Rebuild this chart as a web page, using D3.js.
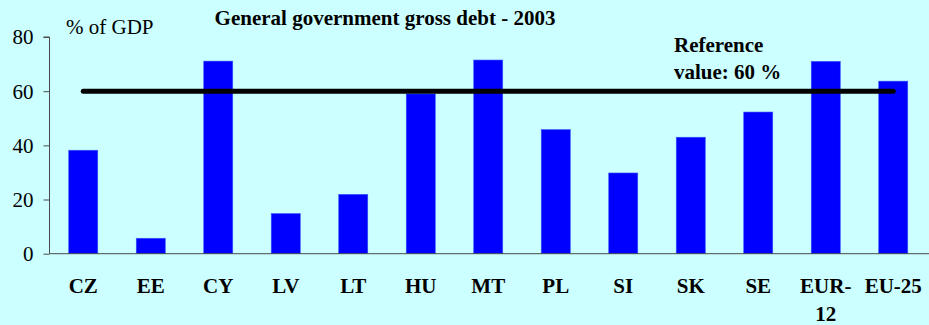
<!DOCTYPE html>
<html>
<head>
<meta charset="utf-8">
<script src="https://cdn.jsdelivr.net/npm/d3@7"></script>
<style>
  html, body { margin: 0; padding: 0; background: #CCFFFF; }
  svg { display: block; }
</style>
</head>
<body>
<svg id="chart" width="929" height="325"></svg>
<script>
// Gross debt of general government, % of GDP, 2003
const categories = ["CZ", "EE", "CY", "LV", "LT", "HU", "MT", "PL", "SI", "SK", "SE", "EUR-12", "EU-25"];
const debt = [38.2, 5.7, 71.1, 14.8, 21.9, 59.0, 71.5, 45.8, 29.8, 43.0, 52.3, 71.0, 63.7];
const referenceValue = 60;
const yTicks = [0, 20, 40, 60, 80];
const categoryLabels = {"EUR-12": ["EUR-", "12"]};

const FONT = "'Liberation Serif', 'Times New Roman', 'DejaVu Serif', serif";
const svg = d3.select("#chart");
const W = 929, H = 325;
const plotLeft = 49.5, plotRight = 927, plotTop = 37, plotBottom = 253.7;

const x = d3.scaleBand().domain(categories).range([plotLeft, plotRight]).paddingInner(0.57).paddingOuter(0.285);
const y = d3.scaleLinear().domain([0, 80]).range([plotBottom, plotTop]);

// bars
svg.append("g").selectAll("rect")
  .data(categories.map((c, i) => ({c, v: debt[i]})))
  .join("rect")
  .attr("x", d => x(d.c))
  .attr("width", x.bandwidth())
  .attr("y", d => y(d.v))
  .attr("height", d => y(0) - y(d.v))
  .attr("fill", "#0000FF")
  .attr("stroke", "#3355FF")
  .attr("stroke-width", 0.6);

// y axis
const yAxis = svg.append("g").attr("transform", `translate(${plotLeft},0)`)
  .attr("font-family", FONT).attr("font-size", 21)
  .call(d3.axisLeft(y).tickValues(yTicks).tickSize(6).tickPadding(10).tickFormat(d3.format("d")));
yAxis.attr("font-family", FONT).attr("font-size", 21);
yAxis.select(".domain").attr("stroke", "#4a4a4a").attr("d", `M-6,${y(80)}H0V${y(0)}`);
yAxis.selectAll(".tick line").attr("stroke", "#4a4a4a");
yAxis.selectAll(".tick text").attr("fill", "#000").attr("dy", "0.33em");

// baseline
svg.append("line")
  .attr("x1", plotLeft).attr("x2", W)
  .attr("y1", y(0)).attr("y2", y(0))
  .attr("stroke", "#4a4a4a").attr("stroke-width", 1);

// reference line
svg.append("line")
  .attr("x1", x("CZ") + x.bandwidth() / 2)
  .attr("x2", x("EU-25") + x.bandwidth() / 2)
  .attr("y1", y(referenceValue)).attr("y2", y(referenceValue))
  .attr("stroke", "#000").attr("stroke-width", 5).attr("stroke-linecap", "round");

// category labels
const lab = svg.append("g")
  .attr("font-family", FONT).attr("font-size", 21).attr("font-weight", "bold")
  .selectAll("text")
  .data(categories)
  .join("text")
  .attr("text-anchor", "middle")
  .attr("x", d => x(d) + x.bandwidth() / 2)
  .attr("y", 293);
lab.each(function(d) {
  const lines = categoryLabels[d] || [d];
  const t = d3.select(this);
  lines.forEach((s, i) => t.append("tspan").attr("x", x(d) + x.bandwidth() / 2).attr("dy", i ? 27.5 : 0).text(s));
});

// titles
const txt = svg.append("g").attr("font-family", FONT).attr("font-size", 21);
txt.append("text").attr("x", 385).attr("y", 25).attr("text-anchor", "middle")
  .attr("font-weight", "bold")
  .text("General government gross debt - 2003");
txt.append("text").attr("x", 66).attr("y", 34)
  .text("% of GDP");
txt.append("text").attr("x", 674).attr("y", 51.5)
  .attr("font-weight", "bold")
  .text("Reference");
txt.append("text").attr("x", 674).attr("y", 79)
  .attr("font-weight", "bold")
  .text("value: " + referenceValue + " %");
</script>
</body>
</html>
